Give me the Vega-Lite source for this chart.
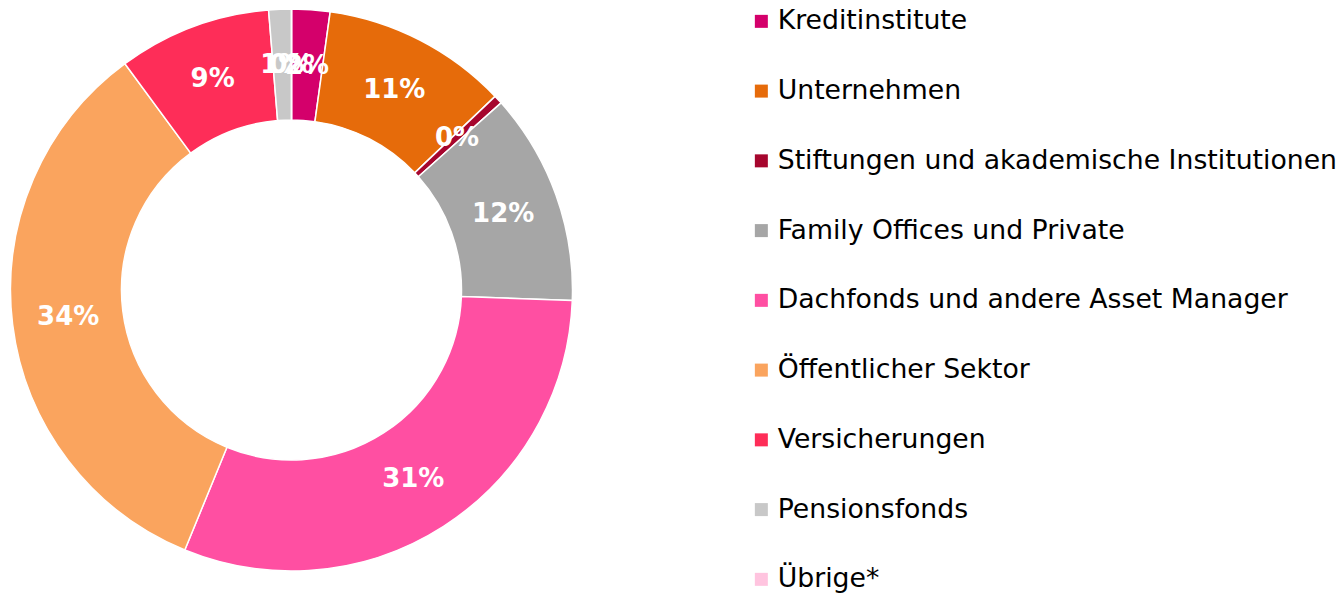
{
  "$schema": "https://vega.github.io/schema/vega-lite/v6.json",
  "width": 583,
  "height": 580,
  "padding": 0,
  "autosize": {"type": "pad"},
  "background": "white",
  "view": {"stroke": null},
  "data": {
    "values": [
      {"idx": 1, "category": "Kreditinstitute", "share": 2.2, "label": "2%"},
      {"idx": 2, "category": "Unternehmen", "share": 10.7, "label": "11%"},
      {"idx": 3, "category": "Stiftungen und akademische Institutionen", "share": 0.5, "label": "0%"},
      {"idx": 4, "category": "Family Offices und Private", "share": 12.2, "label": "12%"},
      {"idx": 5, "category": "Dachfonds und andere Asset Manager", "share": 30.6, "label": "31%"},
      {"idx": 6, "category": "Öffentlicher Sektor", "share": 33.7, "label": "34%"},
      {"idx": 7, "category": "Versicherungen", "share": 8.8, "label": "9%"},
      {"idx": 8, "category": "Pensionsfonds", "share": 1.3, "label": "1%"},
      {"idx": 9, "category": "Übrige*", "share": 0.0, "label": "0%"}
    ]
  },
  "encoding": {
    "theta": {"field": "share", "type": "quantitative", "stack": true},
    "order": {"field": "idx", "type": "quantitative"},
    "color": {
      "field": "category",
      "type": "nominal",
      "scale": {
        "domain": ["Kreditinstitute", "Unternehmen", "Stiftungen und akademische Institutionen", "Family Offices und Private", "Dachfonds und andere Asset Manager", "Öffentlicher Sektor", "Versicherungen", "Pensionsfonds", "Übrige*"],
        "range": ["#D4006B", "#E66B0A", "#A6062E", "#A6A6A6", "#FF4FA2", "#FAA45E", "#FE2D58", "#C8C8C8", "#FFC4DF"]
      },
      "legend": {
        "title": null,
        "orient": "none",
        "legendX": 748,
        "legendY": 8,
        "padding": 0,
        "symbolType": "square",
        "symbolSize": 169,
        "symbolStrokeWidth": 0,
        "labelFont": "DejaVu Sans",
        "labelFontSize": 26.7,
        "labelColor": "#000000",
        "labelLimit": 1000,
        "labelOffset": 3,
        "rowPadding": 41.75
      }
    }
  },
  "layer": [
    {"mark": {"type": "arc", "outerRadius": 281, "innerRadius": 170, "stroke": "white", "strokeWidth": 1.5}},
    {
      "mark": {"type": "text", "radius": 225, "fontSize": 26, "fontWeight": "bold", "font": "DejaVu Sans"},
      "encoding": {"text": {"field": "label", "type": "nominal"}, "color": {"value": "white"}}
    }
  ]
}
